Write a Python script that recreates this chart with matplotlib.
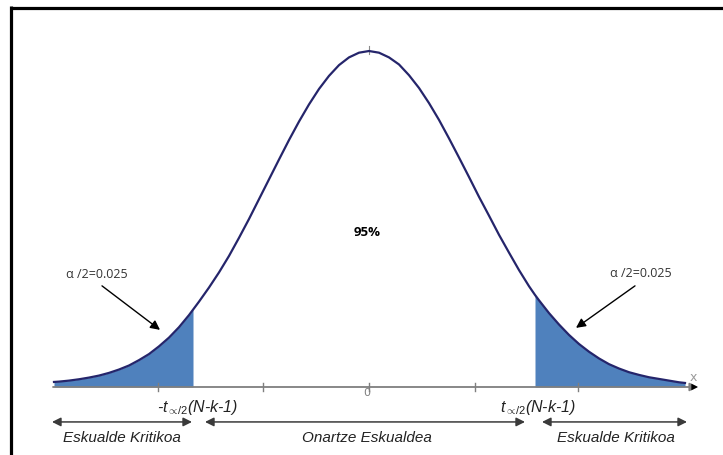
import numpy as np
import matplotlib.pyplot as plt

plt.rcParams['mathtext.fontset'] = 'custom'
plt.rcParams['mathtext.it'] = 'Liberation Sans:italic'
plt.rcParams['mathtext.rm'] = 'Liberation Sans'

# curve (x in units of the axis, height relative to the peak)
curve_x = [-3.15, -3.1, -3.0, -2.9, -2.8, -2.7, -2.6, -2.5, -2.4, -2.3, -2.2, -2.1, -2.0,
           -1.9, -1.8, -1.76, -1.7, -1.6, -1.5, -1.4, -1.3, -1.2, -1.1, -1.0, -0.9, -0.8,
           -0.7, -0.6, -0.5, -0.4, -0.3, -0.2, -0.1, 0.0,
           0.1, 0.2, 0.3, 0.4, 0.5, 0.6, 0.7, 0.8, 0.9, 1.0, 1.1, 1.2, 1.3, 1.4, 1.5,
           1.6, 1.66, 1.7, 1.8, 1.9, 2.0, 2.1, 2.2, 2.3, 2.4, 2.5, 2.6, 2.7, 2.8, 2.9,
           3.0, 3.1, 3.16]
curve_y = [0.015, 0.016, 0.019, 0.023, 0.028, 0.034, 0.042, 0.052, 0.064, 0.080, 0.098, 0.121, 0.147,
           0.178, 0.214, 0.230, 0.254, 0.296, 0.341, 0.39, 0.444, 0.50, 0.559, 0.618, 0.677, 0.735,
           0.790, 0.841, 0.887, 0.926, 0.958, 0.981, 0.995, 1.0,
           0.995, 0.981, 0.96, 0.928, 0.89, 0.845, 0.795, 0.74, 0.683, 0.625, 0.566, 0.51, 0.453, 0.40, 0.348,
           0.30, 0.274, 0.258, 0.22, 0.186, 0.155, 0.128, 0.105, 0.085, 0.068, 0.055, 0.044, 0.036, 0.029, 0.024,
           0.019, 0.014, 0.012]
crit_left = -1.76
crit_right = 1.66
tick_pos = [-2.11, -1.06, 0, 1.06, 2.09]

alpha_txt = "\u03b1 /2=0.025"
center_txt = "95%"
region_labels = ["Eskualde Kritikoa", "Onartze Eskualdea", "Eskualde Kritikoa"]

x = np.array(curve_x)
y = np.array(curve_y)

fig = plt.figure(figsize=(7.23, 4.56), dpi=100)
ax = fig.add_axes([0, 0, 1, 1])
ax.set_xlim(-3.69, 3.54)
ax.set_ylim(-0.2024, 1.1548)
ax.axis('off')

# frame (top and left only)
ax.plot([-3.58, 3.6], [1.1295, 1.1295], color='black', lw=2.3, solid_capstyle='butt')
ax.plot([-3.58, -3.58], [1.1345, -0.25], color='black', lw=2.3, solid_capstyle='butt')

# shaded tails
blue = '#4F81BD'
ax.fill_between(x, 0, y, where=(x <= crit_left), color=blue, lw=0)
ax.fill_between(x, 0, y, where=(x >= crit_right), color=blue, lw=0)

# x axis with arrow
ax.annotate('', xy=(3.29, 0), xytext=(-3.16, 0),
            arrowprops=dict(arrowstyle='-|>', color='#7f7f7f', lw=1.3,
                            mutation_scale=12, shrinkA=0, shrinkB=0))
ax.annotate('', xy=(3.29, 0), xytext=(3.20, 0),
            arrowprops=dict(arrowstyle='-|>', color='black', lw=0,
                            mutation_scale=12, shrinkA=0, shrinkB=0))
for t in tick_pos:
    ax.plot([t, t], [-0.012, 0.012], color='#7f7f7f', lw=1)
ax.text(3.24, 0.03, 'x', color='#9a9a9a', fontsize=9, ha='center', va='center')
ax.text(-0.02, -0.016, '0', color='#7f7f7f', fontsize=8, ha='center', va='center')
ax.plot([0, 0], [0.99, 1.015], color='#8a8a8a', lw=0.8)

# the curve
ax.plot(x, y, color='#25256b', lw=1.6)

ax.text(-0.02, 0.464, center_txt, fontsize=9.5, fontweight='bold',
        family='Open Sans', ha='center', va='center')

ax.text(-2.72, 0.339, alpha_txt, fontsize=9, color='#333333', family='Open Sans',
        ha='center', va='center')
ax.text(2.72, 0.342, alpha_txt, fontsize=9, color='#333333', family='Open Sans',
        ha='center', va='center')
ax.annotate('', xy=(-2.09, 0.17), xytext=(-2.67, 0.301),
            arrowprops=dict(arrowstyle='-|>', color='black', lw=1, mutation_scale=14,
                            shrinkA=0, shrinkB=0))
ax.annotate('', xy=(2.07, 0.176), xytext=(2.66, 0.301),
            arrowprops=dict(arrowstyle='-|>', color='black', lw=1, mutation_scale=14,
                            shrinkA=0, shrinkB=0))

# critical value labels
ax.text(-1.715, -0.058, r'-$t_{\propto\!/2}$(N-k-1)', fontsize=11.5, style='italic',
        family='Liberation Sans', color='#222222', ha='center', va='center')
ax.text(1.685, -0.058, r'$t_{\propto\!/2}$(N-k-1)', fontsize=11.5, style='italic',
        family='Liberation Sans', color='#222222', ha='center', va='center')

# region arrows
arrows = [(-3.17, -1.77), (-1.64, 1.56), (1.73, 3.18)]
for a, b in arrows:
    ax.annotate('', xy=(b, -0.104), xytext=(a, -0.104),
                arrowprops=dict(arrowstyle='<|-|>', color='#3a3a3a', lw=1.1,
                                mutation_scale=13, shrinkA=0, shrinkB=0))

for cx, lab in zip([-2.47, -0.02, 2.47], region_labels):
    ax.text(cx, -0.149, lab, fontsize=11, style='italic', family='Liberation Sans',
            color='#222222', ha='center', va='center')

fig.savefig('out.png', dpi=100)
